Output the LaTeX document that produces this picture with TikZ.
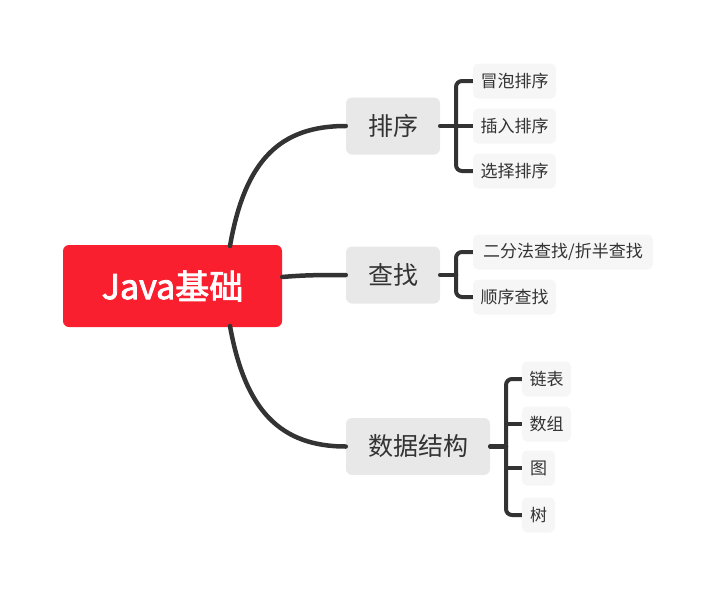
\documentclass[tikz,border=0pt]{standalone}
\usepackage{fontspec}
\setmainfont{Noto Sans CJK SC}
\newfontfamily\cjkbold{Noto Sans CJK SC}[FakeBold=2.5]
\usetikzlibrary{positioning}
\definecolor{rootred}{HTML}{F91F2F}
\definecolor{branchgray}{HTML}{E8E8E8}
\definecolor{leafgray}{HTML}{F6F6F6}
\definecolor{linegray}{HTML}{333333}
\definecolor{txt}{HTML}{333333}
\tikzset{
  rootbox/.style={fill=rootred, rounded corners=6pt, minimum width=219pt, minimum height=82pt, text=white, font=\cjkbold\fontsize{34}{40}\selectfont, inner sep=0pt},
  branchbox/.style={fill=branchgray, rounded corners=6pt, minimum height=57pt, text=txt, font=\fontsize{25}{30}\selectfont, inner sep=0pt},
  leafbox/.style={fill=leafgray, rounded corners=5pt, minimum height=35pt, text=txt, font=\fontsize{17}{20}\selectfont, inner xsep=3pt, inner ysep=0pt},
  conn/.style={draw=linegray, line width=4.5pt, line cap=round},
  brk/.style={draw=linegray, line width=4pt, rounded corners=6pt},
}
\begin{document}
\begin{tikzpicture}[x=1pt,y=-1pt]
\useasboundingbox (0,0) rectangle (716,595);
\node[rootbox] (root) at (172.5,286) {Java基础};
\node[branchbox, minimum width=94pt] (sort) at (393,126) {排序};
\node[branchbox, minimum width=94pt] (find) at (393,275) {查找};
\node[branchbox, minimum width=144pt] (ds) at (418,446.5) {数据结构};
\node[leafbox, minimum width=83pt] (l1) at (514.5,81) {冒泡排序};
\node[leafbox, minimum width=83pt] (l2) at (514.5,126) {插入排序};
\node[leafbox, minimum width=83pt] (l3) at (514.5,171) {选择排序};
\node[leafbox, minimum width=180pt] (f1) at (563,252) {二分法查找/折半查找};
\node[leafbox, minimum width=83pt] (f2) at (514.5,297) {顺序查找};
\node[leafbox, minimum width=49pt] (d1) at (546.5,379) {链表};
\node[leafbox, minimum width=49pt] (d2) at (546.5,424) {数组};
\node[leafbox, minimum width=33pt] (d3) at (538.5,468) {图};
\node[leafbox, minimum width=33pt] (d4) at (538.5,515) {树};
% root connectors
\coordinate (rt) at (230,246);
\coordinate (rb) at (230,326);
\draw[conn] (rt) .. controls (245,160) and (280,126) .. (sort.west);
\draw[conn] (root.east |- 0,277) .. controls (305,275) and (320,275) .. (find.west);
\draw[conn] (rb) .. controls (245,410) and (280,446.5) .. (ds.west);
% brackets
\coordinate (s0) at (456,126);
\draw[conn] (sort.east) -- (s0);
\draw[brk] (l1.west) -- (456,81) -- (456,171) -- (l3.west);
\draw[brk] (s0) -- (l2.west);
\coordinate (q0) at (456,275);
\draw[conn] (find.east) -- (q0);
\draw[brk] (f1.west) -- (456,252) -- (456,297) -- (f2.west);
\coordinate (t0) at (506,446.5);
\draw[conn] (ds.east) -- (t0);
\draw[brk] (d1.west) -- (506,379) -- (506,515) -- (d4.west);
\draw[brk] (506,424) -- (d2.west);
\draw[brk] (506,468) -- (d3.west);
\end{tikzpicture}
\end{document}
